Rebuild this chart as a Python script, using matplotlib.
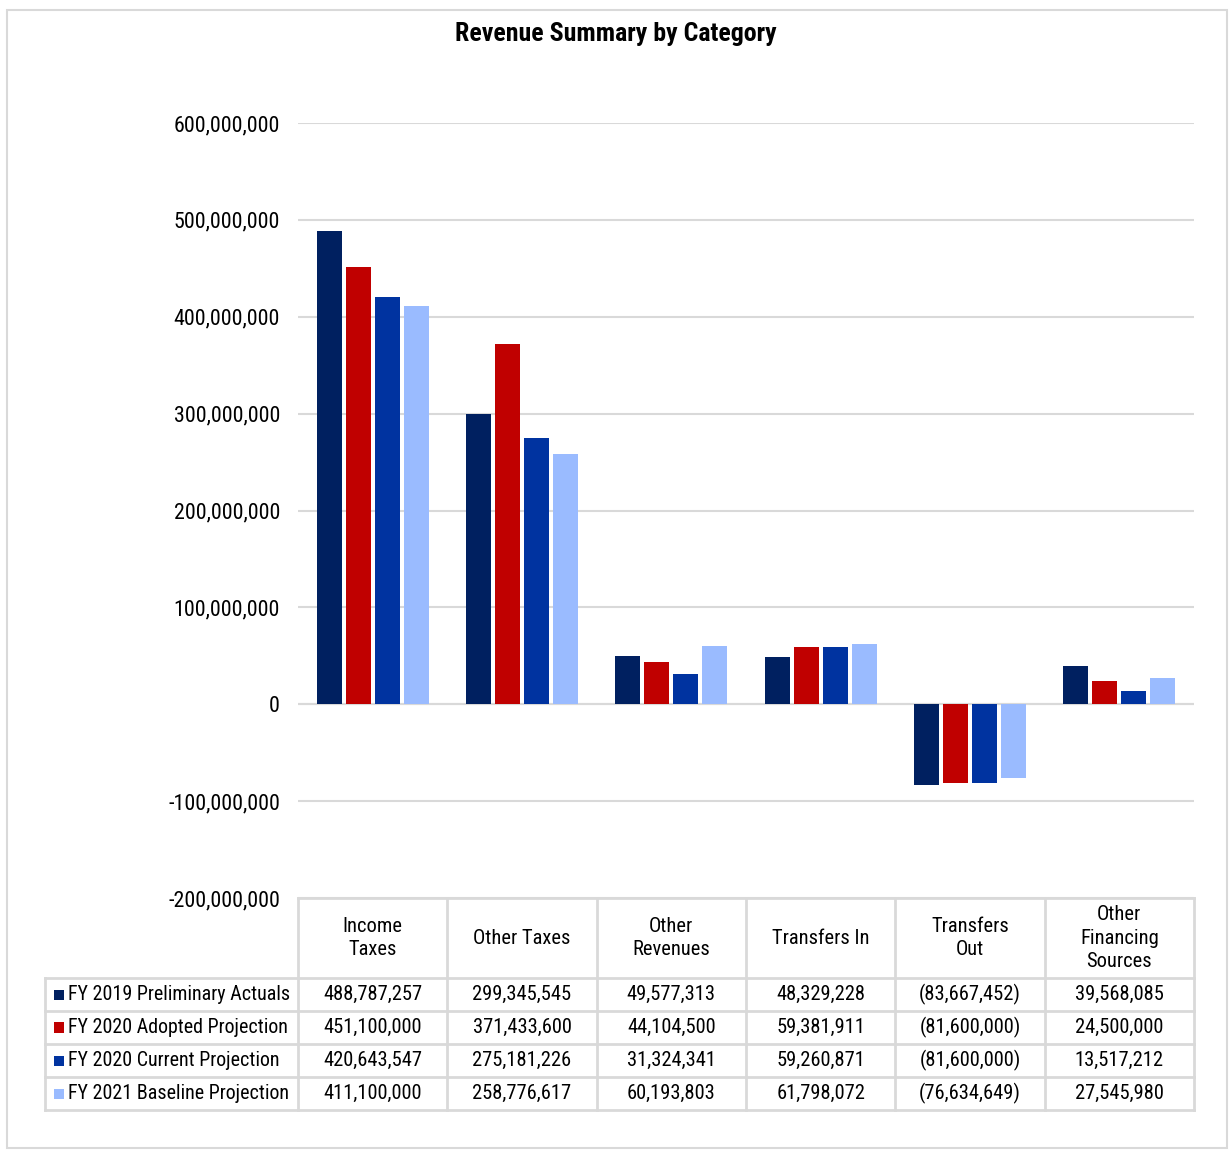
import matplotlib
matplotlib.use("Agg")
import matplotlib.pyplot as plt
from matplotlib.patches import Rectangle
from matplotlib.lines import Line2D
import numpy as np

plt.rcParams['font.family'] = ['Roboto Condensed', 'Arial Narrow', 'Archivo Narrow', 'DejaVu Sans']

categories = ["Income\nTaxes", "Other Taxes", "Other\nRevenues", "Transfers In", "Transfers\nOut", "Other\nFinancing\nSources"]
series_names = ["FY 2019 Preliminary Actuals", "FY 2020 Adopted Projection",
                "FY 2020 Current Projection", "FY 2021 Baseline Projection"]
fy2019 = [488787257, 299345545, 49577313, 48329228, -83667452, 39568085]
fy2020_adopted = [451100000, 371433600, 44104500, 59381911, -81600000, 24500000]
fy2020_current = [420643547, 275181226, 31324341, 59260871, -81600000, 13517212]
fy2021_baseline = [411100000, 258776617, 60193803, 61798072, -76634649, 27545980]
colors = ["#002060", "#C00000", "#0033A0", "#9ABBFF"]
yticks = [-200000000, -100000000, 0, 100000000, 200000000, 300000000, 400000000, 500000000, 600000000]

series = [fy2019, fy2020_adopted, fy2020_current, fy2021_baseline]

W, H = 1231, 1150
fig = plt.figure(figsize=(W / 100, H / 100), dpi=100)

def fx(px):
    return px / W

def fy(py):
    return 1 - py / H

# outer border
fig.patches.append(Rectangle((fx(7), fy(1148)), fx(1227) - fx(7), fy(10) - fy(1148),
                             transform=fig.transFigure, fill=False, edgecolor="#D9D9D9", lw=1.5))

ax_l, ax_r, ax_t, ax_b = 298, 1194, 123, 898
ax = fig.add_axes([fx(ax_l), fy(ax_b), fx(ax_r) - fx(ax_l), fy(ax_t) - fy(ax_b)])
n = len(categories)
x = np.arange(n)
step = 0.194
width = 0.167
for i, (vals, c) in enumerate(zip(series, colors)):
    ax.bar(x + (i - 1.5) * step, vals, width=width, color=c, zorder=3)

ax.set_xlim(-0.5, n - 0.5)
ax.set_ylim(-200000000, 600000000)
ax.set_yticks(yticks)
ax.set_yticklabels([f"{v:,}" for v in yticks], fontsize=15.8)
ax.tick_params(axis='y', length=0, pad=13)
ax.set_xticks([])
for s in ax.spines.values():
    s.set_visible(False)
ax.grid(axis='y', color="#D9D9D9", lw=1.5, zorder=0)
ax.axhline(0, color="#D9D9D9", lw=1.5, zorder=1)

fig.text(0.5, fy(34), "Revenue Summary by Category", ha='center', va='center',
         fontsize=18.6, fontweight='bold')

# data table
col_edges = [ax_l + i * (ax_r - ax_l) / n for i in range(n + 1)]
row_edges = [898, 978, 1011, 1044, 1077, 1110]
legend_left = 45
lc = "#D9D9D9"
lw = 2

def hline(y, x0, x1):
    fig.add_artist(Line2D([fx(x0), fx(x1)], [fy(y), fy(y)], color=lc, lw=lw, transform=fig.transFigure))

def vline(xp, y0, y1):
    fig.add_artist(Line2D([fx(xp), fx(xp)], [fy(y0), fy(y1)], color=lc, lw=lw, transform=fig.transFigure))

hline(row_edges[0], col_edges[0], col_edges[-1])
for y in row_edges[1:]:
    hline(y, legend_left, col_edges[-1])
for xp in col_edges:
    vline(xp, row_edges[0], row_edges[-1])
vline(legend_left, row_edges[1], row_edges[-1])

fs = 14.8
for j, cat in enumerate(categories):
    cx = (col_edges[j] + col_edges[j + 1]) / 2
    cy = (row_edges[0] + row_edges[1]) / 2
    fig.text(fx(cx), fy(cy), cat, ha='center', va='center', fontsize=fs, linespacing=1.27)

for i, (name, vals, c) in enumerate(zip(series_names, series, colors)):
    cy = (row_edges[i + 1] + row_edges[i + 2]) / 2
    fig.patches.append(Rectangle((fx(54), fy(cy + 5)), fx(64) - fx(54), fy(cy - 5) - fy(cy + 5),
                                 transform=fig.transFigure, facecolor=c, edgecolor='none'))
    fig.text(fx(68), fy(cy), name, ha='left', va='center', fontsize=14.4)
    for j, v in enumerate(vals):
        cx = (col_edges[j] + col_edges[j + 1]) / 2
        s = f"({abs(v):,})" if v < 0 else f"{v:,}"
        fig.text(fx(cx), fy(cy), s, ha='center', va='center', fontsize=fs)

fig.savefig("out.png", dpi=100, facecolor="white")
